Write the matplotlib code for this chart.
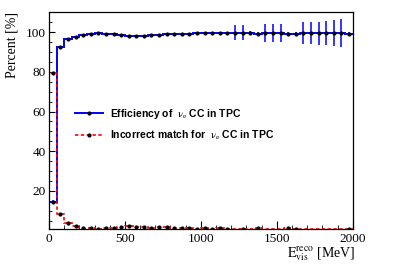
import numpy as np
import matplotlib
matplotlib.use("Agg")
import matplotlib.pyplot as plt
from matplotlib.lines import Line2D
from matplotlib.ticker import MultipleLocator

# reconstructed visible energy bins, 50 MeV wide
bin_edges = np.arange(0, 2001, 50)

# efficiency of nu_e CC in TPC [%]
eff = [14.6, 92.4, 96.5, 97.8, 98.8, 99.0, 99.5, 99.3, 99.1, 98.5,
       98.1, 98.3, 98.3, 98.8, 98.5, 99.0, 99.1, 99.1, 99.3, 99.5,
       99.5, 99.6, 99.6, 99.6, 99.8, 99.8, 99.8, 99.1, 99.5, 99.5,
       99.5, 99.0, 99.3, 99.5, 99.5, 99.5, 99.5, 99.5, 99.5, 99.0]
eff_err = [0.8, 0.6, 0.4, 0.3, 0.3, 0.3, 0.3, 0.3, 0.3, 0.3,
           0.3, 0.3, 0.4, 0.4, 0.4, 0.4, 0.5, 0.5, 0.5, 0.5,
           0.6, 0.6, 0.6, 0.7, 4.0, 4.0, 0.8, 0.8, 4.6, 4.6,
           4.6, 0.9, 0.9, 5.7, 5.7, 5.8, 6.0, 6.5, 7.0, 1.0]

# incorrect match for nu_e CC in TPC [%]
bad = [79.6, 8.3, 4.0, 2.5, 1.5, 1.2, 0.9, 1.2, 1.5, 1.9,
       2.4, 2.0, 2.0, 1.4, 1.7, 1.6, 1.2, 1.4, 1.2, 1.0,
       1.2, 1.0, 1.2, 1.0, 0.0, 0.9, 0.0, 1.2, 0.0, 0.0,
       0.0, 1.3, 0.9, 0.0, 0.0, 0.0, 0.0, 0.0, 0.0, 1.0]

x_ticks = [0, 500, 1000, 1500, 2000]
y_min, y_max = 0.8, 110

plt.rcParams['font.family'] = ['Liberation Serif', 'DejaVu Serif']
plt.rcParams['mathtext.fontset'] = 'stix'

eff = np.array(eff)
eff_err = np.array(eff_err)
bad = np.array(bad)
centers = 0.5 * (bin_edges[:-1] + bin_edges[1:])

fig = plt.figure(figsize=(4.15, 2.66), dpi=100)
ax = fig.add_axes([49 / 415, 37 / 266, 303.7 / 415, 216.7 / 266])

# histogram outlines
ax.stairs(eff, bin_edges, baseline=None, color='blue', lw=1.4, zorder=2)
ax.stairs(np.maximum(bad, y_min), bin_edges, baseline=y_min, color='red',
          lw=1.2, linestyle=(0, (2, 1.5)), zorder=2)

# points with error bars
ax.errorbar(centers, eff, yerr=eff_err, fmt='none', ecolor='blue',
            elinewidth=1.1, zorder=3)
ax.plot(centers, eff, 'o', color='k', ms=2.0, zorder=4)
shown = bad > y_min
ax.plot(centers[shown], bad[shown], 'o', color='k', ms=2.0, zorder=4)

ax.set_xlim(0, 2000)
ax.set_ylim(y_min, y_max)
ax.set_xticks(x_ticks)
ax.xaxis.set_minor_locator(MultipleLocator(100))
ax.yaxis.set_major_locator(MultipleLocator(20))
ax.yaxis.set_minor_locator(MultipleLocator(5))
ax.tick_params(axis='both', which='both', direction='in', labelsize=9.5,
               top=False, right=False, color='k')
ax.tick_params(axis='x', which='major', length=5.8, pad=3)
ax.tick_params(axis='x', which='minor', length=2.6)
ax.tick_params(axis='y', which='major', length=4.0, pad=2.5)
ax.tick_params(axis='y', which='minor', length=2.0)
for s in ax.spines.values():
    s.set_linewidth(0.9)
    s.set_zorder(5)

fig.text(12 / 415, 1 - 12.5 / 266, 'Percent [%]', rotation=90,
         ha='center', va='top', fontsize=10)
fig.text(355 / 415, 1 - 257 / 266, r'$\mathrm{E}_{\mathrm{vis}}^{\mathrm{reco}}$ [MeV]',
         ha='right', va='baseline', fontsize=10)

handles = [
    Line2D([], [], color='blue', lw=1.4, marker='o', mfc='k', mec='k', ms=2.0),
    Line2D([], [], color='red', lw=1.2, linestyle=(0, (2, 1.5)),
           marker='o', mfc='k', mec='k', ms=2.0),
]
labels = [r'Efficiency of  $\mathrm{\nu_e}$ CC in TPC',
          r'Incorrect match for  $\mathrm{\nu_e}$ CC in TPC']
fig.legend(handles, labels, loc='upper left',
           bbox_to_anchor=(75 / 415, 1 - 107 / 266), frameon=False,
           borderpad=0, borderaxespad=0, handlelength=2.7, handletextpad=0.7,
           labelspacing=0.75, numpoints=1,
           prop={'family': 'Liberation Sans', 'weight': 'bold', 'size': 7.5})

fig.savefig('out.png', dpi=100)
